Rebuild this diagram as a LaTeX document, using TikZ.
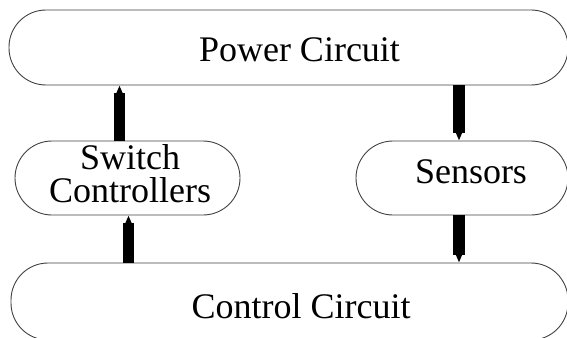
\documentclass[tikz,border=0pt]{standalone}
\usepackage{fontspec}
\setmainfont{Liberation Serif}
\usetikzlibrary{arrows.meta}
\begin{document}
\begin{tikzpicture}[x=1pt,y=-1pt,
  pill/.style={draw=black!75, line width=0.9pt, rounded corners=37pt, inner sep=0pt, fill=none},
  lbl/.style={anchor=base, inner sep=0pt, font=\fontsize{36}{36}\selectfont},
  conn/.style={line width=11.5pt, black, -{Triangle[width=6pt,length=8pt]}}]
\useasboundingbox (0,0) rectangle (567,337);
% boxes
\node[pill, minimum width=559pt, minimum height=75pt] (pc) at (288.5,47.5) {};
\node[pill, minimum width=225pt, minimum height=74pt] (sc) at (127.5,178) {};
\node[pill, minimum width=212pt, minimum height=74pt] (sn) at (462,178) {};
\node[pill, minimum width=557pt, minimum height=77pt] (cc) at (289.5,301.5) {};
% labels
\node[lbl] (pct) at (299.5,61.5) {Power Circuit};
\node[lbl] (sct1) at (130,169) {Switch};
\node[lbl] (sct2) at (130,202) {Controllers};
\node[lbl] (snt) at (471,183) {Sensors};
\node[lbl] (cct) at (301,318.5) {Control Circuit};
% connector columns
\coordinate (a1) at (119.5,0);
\coordinate (a2) at (128.5,0);
\coordinate (a3) at (459,0);
% connectors
\draw[conn] (sc.north -| a1) -- (pc.south -| a1);
\draw[conn] (cc.north -| a2) -- (sc.south -| a2);
\draw[conn] (pc.south -| a3) -- (sn.north -| a3);
\draw[conn] (sn.south -| a3) -- (cc.north -| a3);
\end{tikzpicture}
\end{document}
